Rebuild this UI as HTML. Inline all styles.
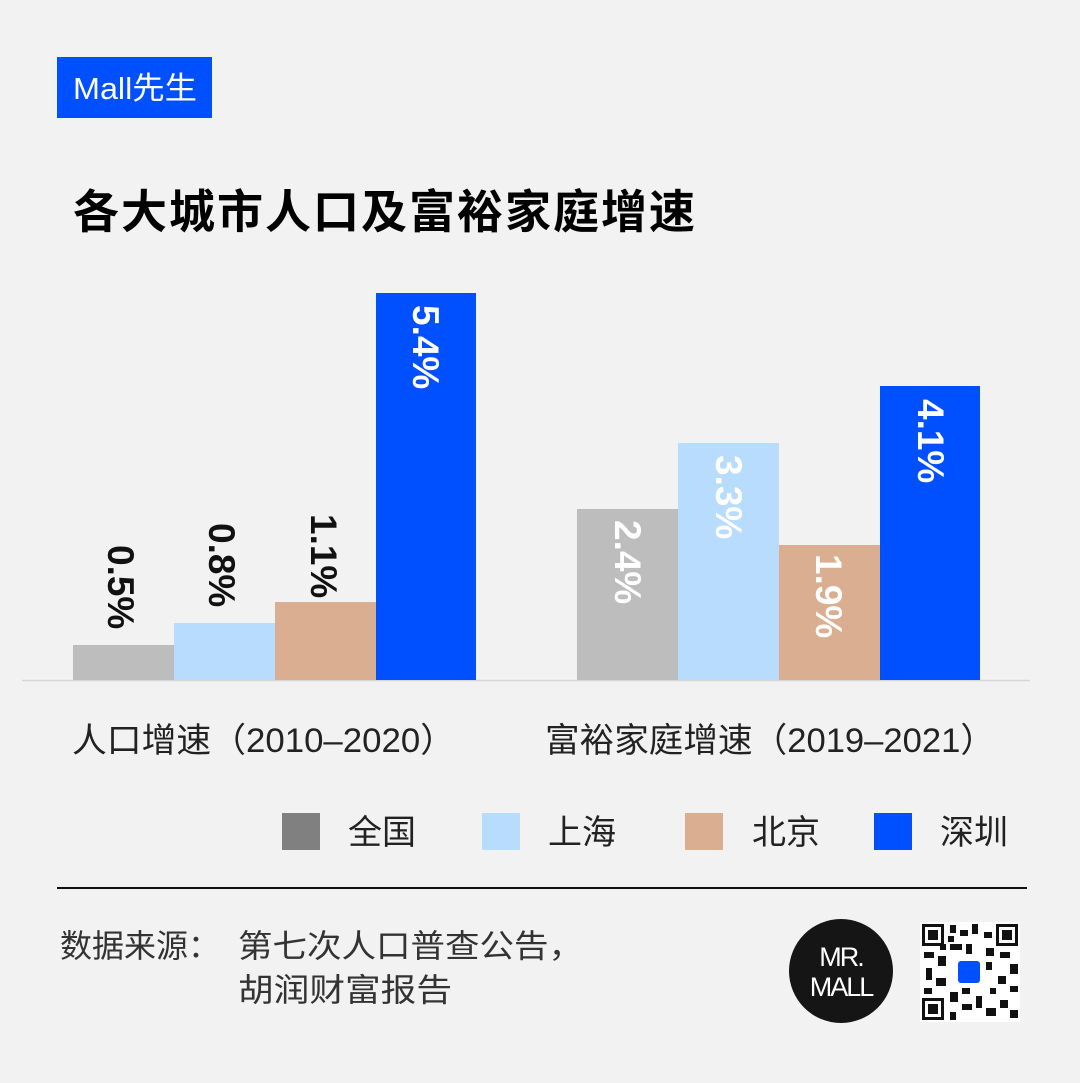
<!DOCTYPE html>
<html><head><meta charset="utf-8"><style>
html,body{margin:0;padding:0;background:#f2f2f2;}
svg{display:block;}
</style></head><body>
<svg width="1080" height="1083" xmlns="http://www.w3.org/2000/svg" font-family="Liberation Sans, Noto Sans CJK SC, sans-serif">
<rect width="1080" height="1083" fill="#f2f2f2"/>
<rect x="57" y="57" width="155" height="61" fill="#0050ff"/>
<text x="73" y="99" fill="#fff" font-size="31" textLength="124" lengthAdjust="spacingAndGlyphs">Mall先生</text>
<text x="73" y="228" fill="#000" font-size="46" font-weight="bold" letter-spacing="2">各大城市人口及富裕家庭增速</text>
<line x1="22" y1="680.5" x2="1030" y2="680.5" stroke="#d6d6d6" stroke-width="1.5"/>
<rect x="73" y="645" width="101" height="35" fill="#bdbdbd"/>
<rect x="174" y="623" width="101" height="57" fill="#b8dcfd"/>
<rect x="275" y="602" width="101" height="78" fill="#d9ae91"/>
<rect x="376" y="293" width="100" height="387" fill="#0050ff"/>
<rect x="577" y="509" width="101" height="171" fill="#bdbdbd"/>
<rect x="678" y="443" width="101" height="237" fill="#b8dcfd"/>
<rect x="779" y="545" width="101" height="135" fill="#d9ae91"/>
<rect x="880" y="386" width="100" height="294" fill="#0050ff"/>
<g font-size="37" font-weight="bold">
<text transform="translate(108,545) rotate(90)" fill="#111">0.5%</text>
<text transform="translate(209,523) rotate(90)" fill="#111">0.8%</text>
<text transform="translate(311,514) rotate(90)" fill="#111">1.1%</text>
<text transform="translate(413,305) rotate(90)" fill="#fff">5.4%</text>
<text transform="translate(615,520) rotate(90)" fill="#fff">2.4%</text>
<text transform="translate(716,455) rotate(90)" fill="#fff">3.3%</text>
<text transform="translate(816,554) rotate(90)" fill="#fff">1.9%</text>
<text transform="translate(918,399) rotate(90)" fill="#fff">4.1%</text>
</g>
<g font-size="34" fill="#222">
<text x="72" y="752" textLength="383" lengthAdjust="spacingAndGlyphs">人口增速（2010–2020）</text>
<text x="545" y="752" textLength="450" lengthAdjust="spacingAndGlyphs">富裕家庭增速（2019–2021）</text>
</g>
<rect x="282" y="813" width="38" height="37" fill="#808080"/>
<rect x="482" y="813" width="38" height="37" fill="#b8dcfd"/>
<rect x="685" y="813" width="38" height="37" fill="#d9ae91"/>
<rect x="874" y="813" width="38" height="37" fill="#0050ff"/>
<g font-size="34" fill="#222">
<text x="348" y="844">全国</text>
<text x="548" y="844">上海</text>
<text x="752" y="844">北京</text>
<text x="940" y="844">深圳</text>
</g>
<line x1="57" y1="888" x2="1027" y2="888" stroke="#111" stroke-width="2"/>
<g font-size="32" fill="#333">
<text x="60" y="957">数据来源：</text>
<text x="238" y="957" textLength="345" lengthAdjust="spacingAndGlyphs">第七次人口普查公告，</text>
<text x="238" y="1001" textLength="214" lengthAdjust="spacingAndGlyphs">胡润财富报告</text>
</g>
<circle cx="841" cy="971" r="52" fill="#151515"/>
<text x="841" y="966" fill="#fff" font-size="27" text-anchor="middle" letter-spacing="-2">MR.</text>
<text x="841" y="996" fill="#fff" font-size="27" text-anchor="middle" letter-spacing="-2">MALL</text>
<g>
<rect x="920" y="922" width="100" height="100" fill="#fff"/>
<g fill="#111">
<rect x="922" y="924" width="22" height="22"/><rect x="996" y="924" width="22" height="22"/><rect x="922" y="998" width="22" height="22"/>
</g>
<g fill="#fff"><rect x="925" y="927" width="16" height="16"/><rect x="999" y="927" width="16" height="16"/><rect x="925" y="1001" width="16" height="16"/></g>
<g fill="#111"><rect x="928" y="930" width="10" height="10"/><rect x="1002" y="930" width="10" height="10"/><rect x="928" y="1004" width="10" height="10"/>
<rect x="950" y="925" width="6" height="8"/><rect x="960" y="930" width="8" height="6"/><rect x="972" y="924" width="6" height="10"/><rect x="984" y="932" width="8" height="6"/>
<rect x="924" y="952" width="10" height="6"/><rect x="938" y="956" width="8" height="10"/><rect x="926" y="968" width="6" height="12"/><rect x="936" y="978" width="10" height="8"/><rect x="924" y="988" width="8" height="6"/>
<rect x="950" y="944" width="12" height="6"/><rect x="986" y="948" width="8" height="8"/><rect x="1000" y="952" width="10" height="6"/><rect x="1010" y="964" width="8" height="10"/><rect x="998" y="976" width="8" height="8"/><rect x="1010" y="986" width="8" height="6"/>
<rect x="950" y="992" width="8" height="10"/><rect x="962" y="1004" width="10" height="6"/><rect x="976" y="996" width="6" height="12"/><rect x="986" y="1008" width="10" height="8"/><rect x="950" y="1012" width="6" height="8"/><rect x="1000" y="1000" width="8" height="8"/><rect x="1010" y="1010" width="8" height="8"/>
<rect x="948" y="936" width="6" height="6"/><rect x="966" y="944" width="6" height="10"/><rect x="940" y="944" width="6" height="6"/><rect x="986" y="962" width="6" height="8"/><rect x="962" y="988" width="8" height="6"/><rect x="990" y="988" width="6" height="6"/>
</g>
<rect x="958" y="961" width="22" height="22" rx="3" fill="#0050ff"/>
</g>
</svg>
</body></html>
